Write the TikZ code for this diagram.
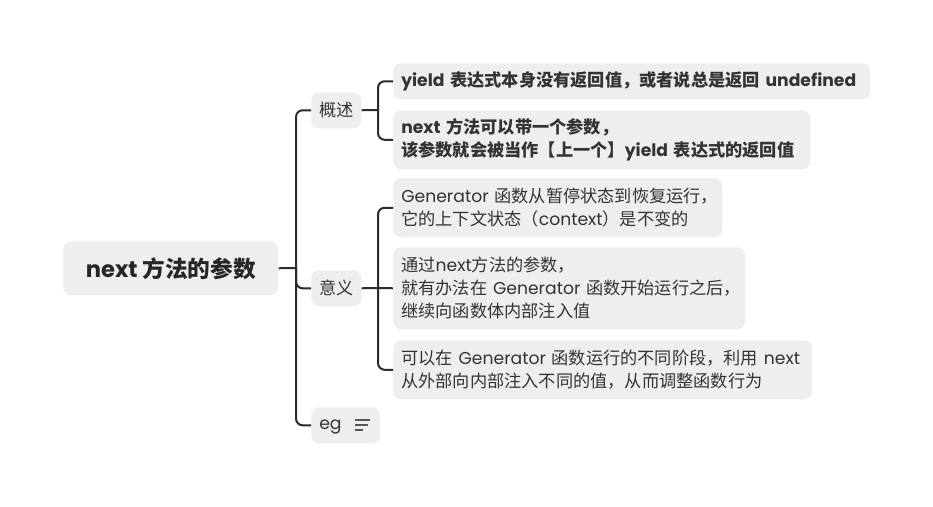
\documentclass[tikz,border=0pt]{standalone}
\usepackage{fontspec}
\setmainfont{Poppins}
\newfontfamily\cjk{Noto Sans CJK SC}
\definecolor{boxfill}{HTML}{EEEEEE}
\definecolor{txt}{HTML}{333333}
\definecolor{linec}{HTML}{2B2B2B}
\definecolor{iconc}{HTML}{555555}
\begin{document}
\begin{tikzpicture}[x=0.75pt,y=-0.75pt,
  box/.style={fill=boxfill, rounded corners=6pt, anchor=north west, text=txt,
    inner xsep=6pt, inner ysep=0pt, font=\fontsize{12.9}{17.25}\selectfont},
  leaf/.style={box, align=left},
  conn/.style={draw=linec, line width=1.5pt, rounded corners=5pt},
  icon/.style={draw=iconc, line width=0.8pt}]
\useasboundingbox[fill=white] (0,0) rectangle (933,507);
% root
\node[box, minimum width=215*0.75pt, minimum height=54*0.75pt, font=\fontsize{17}{20}\selectfont\bfseries, text=black!85]
  (root) at (63,241) {next {\cjk 方法的参数}};
% first level
\node[box, minimum width=50*0.75pt, minimum height=36*0.75pt, inner xsep=0pt] (gs) at (311,92) {{\cjk 概述}};
\node[box, minimum width=50*0.75pt, minimum height=36*0.75pt, inner xsep=0pt] (yy) at (311,270) {{\cjk 意义}};
\node[box, minimum width=69*0.75pt, minimum height=36*0.75pt, inner xsep=0pt] (eg) at (311,407) {};
\node[anchor=mid west, inner sep=0pt, text=txt, font=\fontsize{12.9}{14}\selectfont] (egt) at (319,426) {eg};
\draw[icon] (355,420) -- (370,420);
\draw[icon] (355,425) -- (368,425);
\draw[icon] (355,430) -- (363,430);
% leaves
\node[leaf, text width=461*0.75pt, minimum height=36*0.75pt, font=\fontsize{12.9}{17.25}\selectfont\bfseries] (c1) at (393,63)
  {\mbox{yield {\cjk 表达式本身没有返回值，或者说总是返回} undefined}};
\node[leaf, text width=401*0.75pt, minimum height=59*0.75pt, font=\fontsize{12.9}{17.25}\selectfont\bfseries] (c2) at (393,110)
  {\mbox{next {\cjk 方法可以带一个参数，}}\\\mbox{{\cjk 该参数就会被当作【上一个】}yield {\cjk 表达式的返回值}}};
\node[leaf, text width=313*0.75pt, minimum height=59*0.75pt] (a) at (393,178)
  {\mbox{Generator {\cjk 函数从暂停状态到恢复运行，}}\\\mbox{{\cjk 它的上下文状态（}context{\cjk ）是不变的}}};
\node[leaf, text width=336*0.75pt, minimum height=82*0.75pt] (b) at (393,247)
  {\mbox{{\cjk 通过}next{\cjk 方法的参数，}}\\\mbox{{\cjk 就有办法在} Generator {\cjk 函数开始运行之后，}}\\\mbox{{\cjk 继续向函数体内部注入值}}};
\node[leaf, text width=403*0.75pt, minimum height=59*0.75pt] (c) at (393,340)
  {\mbox{{\cjk 可以在} Generator {\cjk 函数运行的不同阶段，利用} next}\\\mbox{{\cjk 从外部向内部注入不同的值，从而调整函数行为}}};
% connectors
\coordinate (j0) at (296,268);
\coordinate (j1) at (378,110);
\coordinate (j2) at (378,288);
\draw[conn] (root.east) -- (j0);
\draw[conn] (j0) |- (gs.west);
\draw[conn] (j0) |- (yy.west);
\draw[conn] (j0) |- (eg.west);
\draw[conn] (gs.east) -- (j1);
\draw[conn] (j1) |- (c1.west);
\draw[conn] (j1) |- (c2.west);
\draw[conn] (yy.east) -- (j2);
\draw[conn] (j2) |- (a.west);
\draw[conn] (j2) -- (b.west);
\draw[conn] (j2) |- (c.west);
\end{tikzpicture}
\end{document}
